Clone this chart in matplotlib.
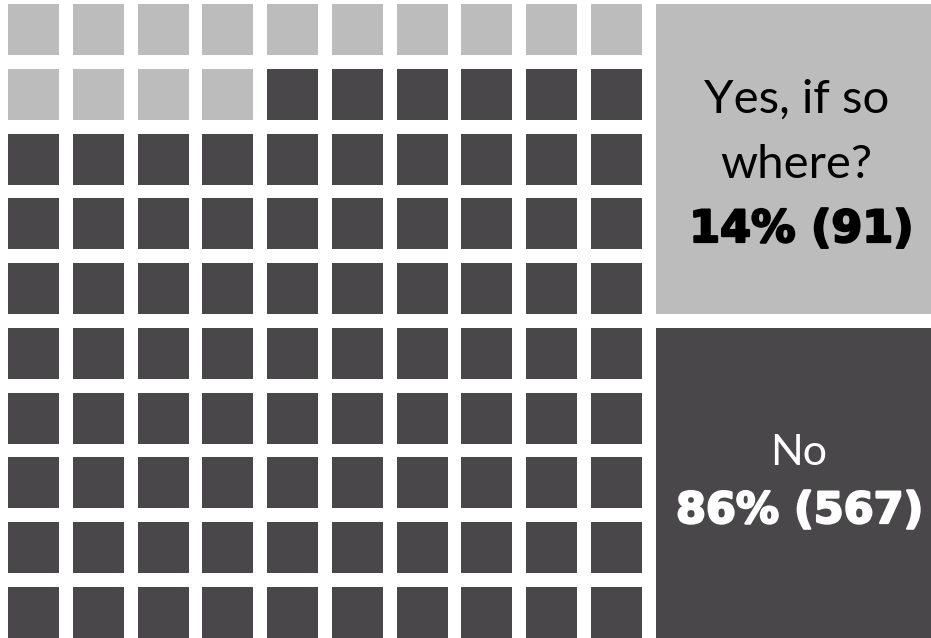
import matplotlib
matplotlib.use("Agg")
import matplotlib.pyplot as plt
import matplotlib.patheffects as pe
from matplotlib.patches import Rectangle

# Data
categories = ["Yes, if so where?", "No"]
label_lines = [["Yes, if so", "where?"], ["No"]]
percents = [14, 86]
counts = [91, 567]
colors = ["#BCBCBC", "#49474A"]
text_colors = ["#000000", "#FFFFFF"]

W, H = 931, 638
fig = plt.figure(figsize=(W / 100, H / 100), dpi=100)
ax = fig.add_axes([0, 0, 1, 1])
ax.set_xlim(0, W)
ax.set_ylim(H, 0)
ax.axis("off")

# waffle grid
left, top, size = 8, 4, 51
pitch = (591 - 8) / 9
cell_cat = []
for i, p in enumerate(percents):
    cell_cat += [i] * p
for idx, c in enumerate(cell_cat):
    r, col = divmod(idx, 10)
    ax.add_patch(Rectangle((left + col * pitch, top + r * pitch), size, size,
                           facecolor=colors[c], edgecolor="none"))

# legend panels
px0, px1 = 656, 931
panels = [(4, 314), (328, 638)]
cx = (px0 + px1) / 2
font_light = "Lato"
font_bold = "DejaVu Sans"
for i, (y0, y1) in enumerate(panels):
    ax.add_patch(Rectangle((px0, y0), px1 - px0, y1 - y0,
                           facecolor=colors[i], edgecolor="none"))

def heavy(color):
    return [pe.withStroke(linewidth=1.6, foreground=color)]

# upper label
ax.text(cx + 3, 113, label_lines[0][0], ha="center", va="baseline", fontsize=34,
        family=font_light, fontweight="normal", color=text_colors[0])
ax.text(cx + 3, 178, label_lines[0][1], ha="center", va="baseline", fontsize=34,
        family=font_light, fontweight="normal", color=text_colors[0])
ax.text(cx + 8, 242, f"{percents[0]}% ({counts[0]})", ha="center", va="baseline",
        fontsize=32, family=font_bold, fontweight="bold", color=text_colors[0],
        path_effects=heavy(text_colors[0]))
# lower label
ax.text(cx + 5, 465, label_lines[1][0], ha="center", va="baseline", fontsize=31,
        family=font_light, fontweight="normal", color=text_colors[1])
ax.text(cx + 6, 523, f"{percents[1]}% ({counts[1]})", ha="center", va="baseline",
        fontsize=31, family=font_bold, fontweight="bold", color=text_colors[1],
        path_effects=heavy(text_colors[1]))

fig.savefig("out.png", dpi=100)
